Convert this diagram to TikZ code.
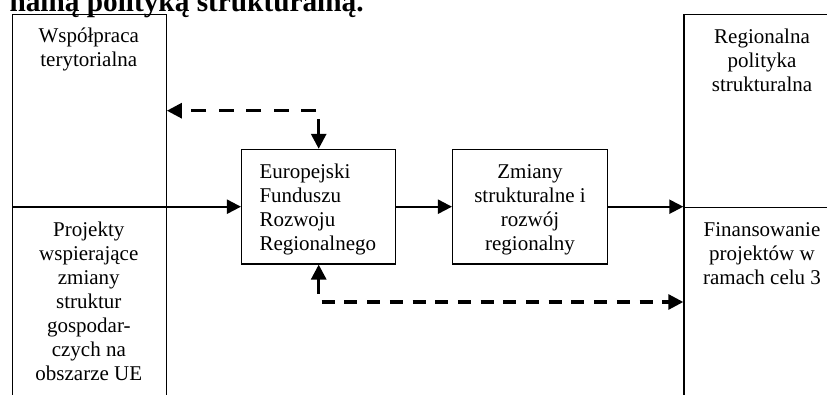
\documentclass[tikz,border=0pt]{standalone}
\usepackage{fontspec}
\setmainfont{Liberation Serif}
\usetikzlibrary{arrows.meta,calc}
\newcommand{\mlines}[2][c]{\begin{tabular}[t]{@{}#1@{}}#2\end{tabular}}
\tikzset{
  box/.style={draw, line width=1.5pt, inner sep=0pt},
  outer/.style={draw, line width=1.2pt, inner sep=0pt, anchor=north west},
  txt/.style={inner sep=0pt, anchor=base, font=\fontsize{21}{24}\selectfont},
  arr/.style={line width=2.2pt, -{Triangle[length=14pt,width=14pt]}},
  darr/.style={line width=3pt, -{Triangle[length=15pt,width=15pt]}},
}
\begin{document}
\begin{tikzpicture}[x=1pt,y=-1pt]
\useasboundingbox (0,0) rectangle (827,395);
\clip (0,0) rectangle (827,395);
% title (cut at top)
\node[anchor=base west, inner sep=0pt, font=\fontsize{29.3}{30}\selectfont\bfseries] (title) at (9.3,11.5) {nalną polityką strukturalną.};
% left column
\node[outer, minimum width=153.7pt, minimum height=192.7pt] (ltop) at (12,14) {};
\node[outer, minimum width=153.7pt, minimum height=230pt] (lbot) at (12,206.7) {};
\node[txt] (ltopt) at (88.8,42.8) {\mlines{Współpraca\\terytorialna}};
\node[txt] (lbott) at (88.8,236.6) {\mlines{Projekty\\wspierające\\zmiany\\struktur\\gospodar-\\czych na\\obszarze UE}};
% right column
\node[outer, minimum width=160pt, minimum height=192.7pt] (rtop) at (683.3,14) {};
\node[outer, minimum width=160pt, minimum height=230pt] (rbot) at (683.3,206.7) {};
\node[txt] (rtopt) at (762,43.5) {\mlines{Regionalna\\polityka\\strukturalna}};
\node[txt] (rbott) at (762,236.5) {\mlines{Finansowanie\\projektów w\\ramach celu 3}};
% middle boxes
\node[box, minimum width=154pt, minimum height=114.3pt] (efrr) at (318.7,206.7) {};
\node[txt, anchor=base west] (efrrt) at (259.3,178.5) {\mlines[l]{Europejski\\Funduszu\\Rozwoju\\Regionalnego}};
\node[box, minimum width=154.6pt, minimum height=114.3pt] (zm) at (530,206.7) {};
\node[txt] (zmt) at (530,178.5) {\mlines{Zmiany\\strukturalne i\\rozwój\\regionalny}};
% solid arrows
\draw[arr] (lbot.north west) -- (lbot.north west -| efrr.west);
\draw[arr] (efrr.east) -- (zm.west);
\draw[arr] (zm.east) -- (zm.east -| rbot.north west);
% dashed connectors
\coordinate (tA) at (316,110.7);
\coordinate (tB) at (318.7,119.3);
\coordinate (bB) at (318.7,294);
\coordinate (bA) at (321.7,302);
\draw[darr, dash pattern=on 15pt off 12.5pt] (tA) -- (tA -| ltop.east);
\draw[darr] (tB) -- (efrr.north);
\draw[darr] (bB) -- (efrr.south);
\draw[darr, dash pattern=on 13pt off 9.7pt] (bA) -- (bA -| rbot.west);
\end{tikzpicture}
\end{document}
